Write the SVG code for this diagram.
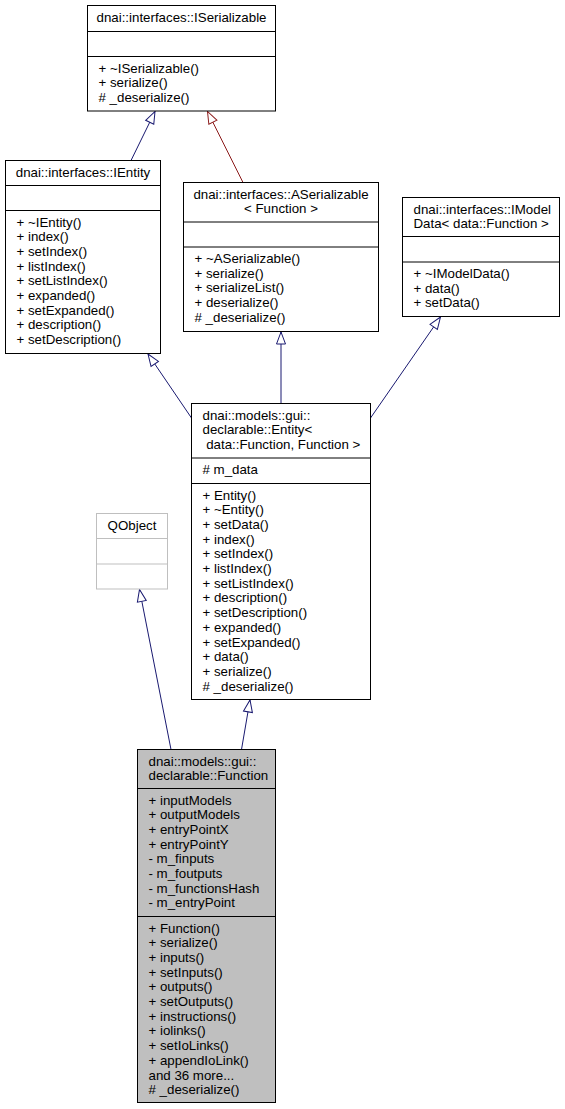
<svg xmlns="http://www.w3.org/2000/svg" width="565" height="1109" viewBox="0 0 565 1109">
<style>
text{font-family:"Liberation Sans",Arial,Helvetica,sans-serif;font-size:13.3px;fill:#000}
.c{text-anchor:middle}
.box{fill:#fff;stroke:#000;stroke-width:1}
.grey{fill:#fff;stroke:#bfbfbf;stroke-width:1}
.cur{fill:#bfbfbf;stroke:#000;stroke-width:1}
.sep{stroke:#000;stroke-width:1}
.gsep{stroke:#bfbfbf;stroke-width:1}
.pub{fill:none;stroke:#191970;stroke-width:1;marker-end:url(#ab)}
.pro{fill:none;stroke:#8b1a1a;stroke-width:1;marker-end:url(#ar)}
</style>
<defs>
<marker id="ab" markerUnits="userSpaceOnUse" markerWidth="14" markerHeight="12" viewBox="-1 -1 14 12" refX="12" refY="4.5" orient="auto" overflow="visible"><path d="M0,0 L12,4.5 L0,9 Z" fill="#fff" stroke="#191970" stroke-width="1"/></marker>
<marker id="ar" markerUnits="userSpaceOnUse" markerWidth="14" markerHeight="12" viewBox="-1 -1 14 12" refX="12" refY="4.5" orient="auto" overflow="visible"><path d="M0,0 L12,4.5 L0,9 Z" fill="#fff" stroke="#8b1a1a" stroke-width="1"/></marker>
</defs>
<rect width="565" height="1109" fill="#fff"/>
<g id="edges">
<path class="pub" d="M131,160.5 L155,111.5"/>
<path class="pro" d="M243,182.5 L207.5,111.5"/>
<path class="pub" d="M191.5,418 L148,354"/>
<path class="pub" d="M281,403.5 L281,332"/>
<path class="pub" d="M370.5,418 L440.5,317"/>
<path class="pub" d="M171,749.5 L139.5,589.5"/>
<path class="pub" d="M241.5,749.5 L250,700"/>
</g>
<g id="ISerializable">
<rect class="box" x="87.5" y="5.5" width="188" height="105.5"/>
<line class="sep" x1="87.5" y1="31.5" x2="275.5" y2="31.5"/>
<line class="sep" x1="87.5" y1="56.5" x2="275.5" y2="56.5"/>
<text class="c" x="181.5" y="21.5">dnai::interfaces::ISerializable</text>
<text x="98.5" y="72.5">+ ~ISerializable()</text>
<text x="98.5" y="87.2">+ serialize()</text>
<text x="98.5" y="101.9"># _deserialize()</text>
</g>
<g id="IEntity">
<rect class="box" x="5.5" y="160.5" width="155" height="193"/>
<line class="sep" x1="5.5" y1="185.5" x2="160.5" y2="185.5"/>
<line class="sep" x1="5.5" y1="210.5" x2="160.5" y2="210.5"/>
<text class="c" x="83" y="176.5">dnai::interfaces::IEntity</text>
<text x="16.5" y="226.5">+ ~IEntity()</text>
<text x="16.5" y="241.2">+ index()</text>
<text x="16.5" y="255.9">+ setIndex()</text>
<text x="16.5" y="270.6">+ listIndex()</text>
<text x="16.5" y="285.3">+ setListIndex()</text>
<text x="16.5" y="300">+ expanded()</text>
<text x="16.5" y="314.7">+ setExpanded()</text>
<text x="16.5" y="329.4">+ description()</text>
<text x="16.5" y="344.1">+ setDescription()</text>
</g>
<g id="ASerializable">
<rect class="box" x="183.5" y="182.5" width="195" height="149"/>
<line class="sep" x1="183.5" y1="222" x2="378.5" y2="222"/>
<line class="sep" x1="183.5" y1="247" x2="378.5" y2="247"/>
<text class="c" x="281" y="198.5">dnai::interfaces::ASerializable</text>
<text class="c" x="281" y="213.2">&lt; Function &gt;</text>
<text x="194.5" y="263">+ ~ASerializable()</text>
<text x="194.5" y="277.7">+ serialize()</text>
<text x="194.5" y="292.4">+ serializeList()</text>
<text x="194.5" y="307.1">+ deserialize()</text>
<text x="194.5" y="321.8"># _deserialize()</text>
</g>
<g id="IModelData">
<rect class="box" x="402.5" y="197.5" width="157" height="119"/>
<line class="sep" x1="402.5" y1="236.5" x2="559.5" y2="236.5"/>
<line class="sep" x1="402.5" y1="262" x2="559.5" y2="262"/>
<text x="413.5" y="213.5">dnai::interfaces::IModel</text>
<text x="413.5" y="228.2">Data&lt; data::Function &gt;</text>
<text x="413.5" y="278">+ ~IModelData()</text>
<text x="413.5" y="292.7">+ data()</text>
<text x="413.5" y="307.4">+ setData()</text>
</g>
<g id="Entity">
<rect class="box" x="191.5" y="403.5" width="179" height="296"/>
<line class="sep" x1="191.5" y1="458" x2="370.5" y2="458"/>
<line class="sep" x1="191.5" y1="483.5" x2="370.5" y2="483.5"/>
<text x="202.5" y="419.5">dnai::models::gui::</text>
<text x="202.5" y="434.2">declarable::Entity&lt;</text>
<text x="206.2" y="448.9">data::Function, Function &gt;</text>
<text x="202.5" y="474"># m_data</text>
<text x="202.5" y="499.5">+ Entity()</text>
<text x="202.5" y="514.2">+ ~Entity()</text>
<text x="202.5" y="528.9">+ setData()</text>
<text x="202.5" y="543.6">+ index()</text>
<text x="202.5" y="558.3">+ setIndex()</text>
<text x="202.5" y="573">+ listIndex()</text>
<text x="202.5" y="587.7">+ setListIndex()</text>
<text x="202.5" y="602.4">+ description()</text>
<text x="202.5" y="617.1">+ setDescription()</text>
<text x="202.5" y="631.8">+ expanded()</text>
<text x="202.5" y="646.5">+ setExpanded()</text>
<text x="202.5" y="661.2">+ data()</text>
<text x="202.5" y="675.9">+ serialize()</text>
<text x="202.5" y="690.6"># _deserialize()</text>
</g>
<g id="QObject">
<rect class="grey" x="96.5" y="513.5" width="71" height="75.5"/>
<line class="gsep" x1="96.5" y1="538.5" x2="167.5" y2="538.5"/>
<line class="gsep" x1="96.5" y1="564" x2="167.5" y2="564"/>
<text class="c" x="132" y="529.5">QObject</text>
</g>
<g id="Function">
<rect class="cur" x="137.5" y="749.5" width="138" height="353"/>
<line class="sep" x1="137.5" y1="788.5" x2="275.5" y2="788.5"/>
<line class="sep" x1="137.5" y1="916.5" x2="275.5" y2="916.5"/>
<text x="148.5" y="765.5">dnai::models::gui::</text>
<text x="148.5" y="780.2">declarable::Function</text>
<text x="148.5" y="804.5">+ inputModels</text>
<text x="148.5" y="819.2">+ outputModels</text>
<text x="148.5" y="833.9">+ entryPointX</text>
<text x="148.5" y="848.6">+ entryPointY</text>
<text x="148.5" y="863.3">- m_finputs</text>
<text x="148.5" y="878">- m_foutputs</text>
<text x="148.5" y="892.7">- m_functionsHash</text>
<text x="148.5" y="907.4">- m_entryPoint</text>
<text x="148.5" y="932.5">+ Function()</text>
<text x="148.5" y="947.2">+ serialize()</text>
<text x="148.5" y="961.9">+ inputs()</text>
<text x="148.5" y="976.6">+ setInputs()</text>
<text x="148.5" y="991.3">+ outputs()</text>
<text x="148.5" y="1006">+ setOutputs()</text>
<text x="148.5" y="1020.7">+ instructions()</text>
<text x="148.5" y="1035.4">+ iolinks()</text>
<text x="148.5" y="1050.1">+ setIoLinks()</text>
<text x="148.5" y="1064.8">+ appendIoLink()</text>
<text x="148.5" y="1079.5">and 36 more...</text>
<text x="148.5" y="1094.2"># _deserialize()</text>
</g>
</svg>
